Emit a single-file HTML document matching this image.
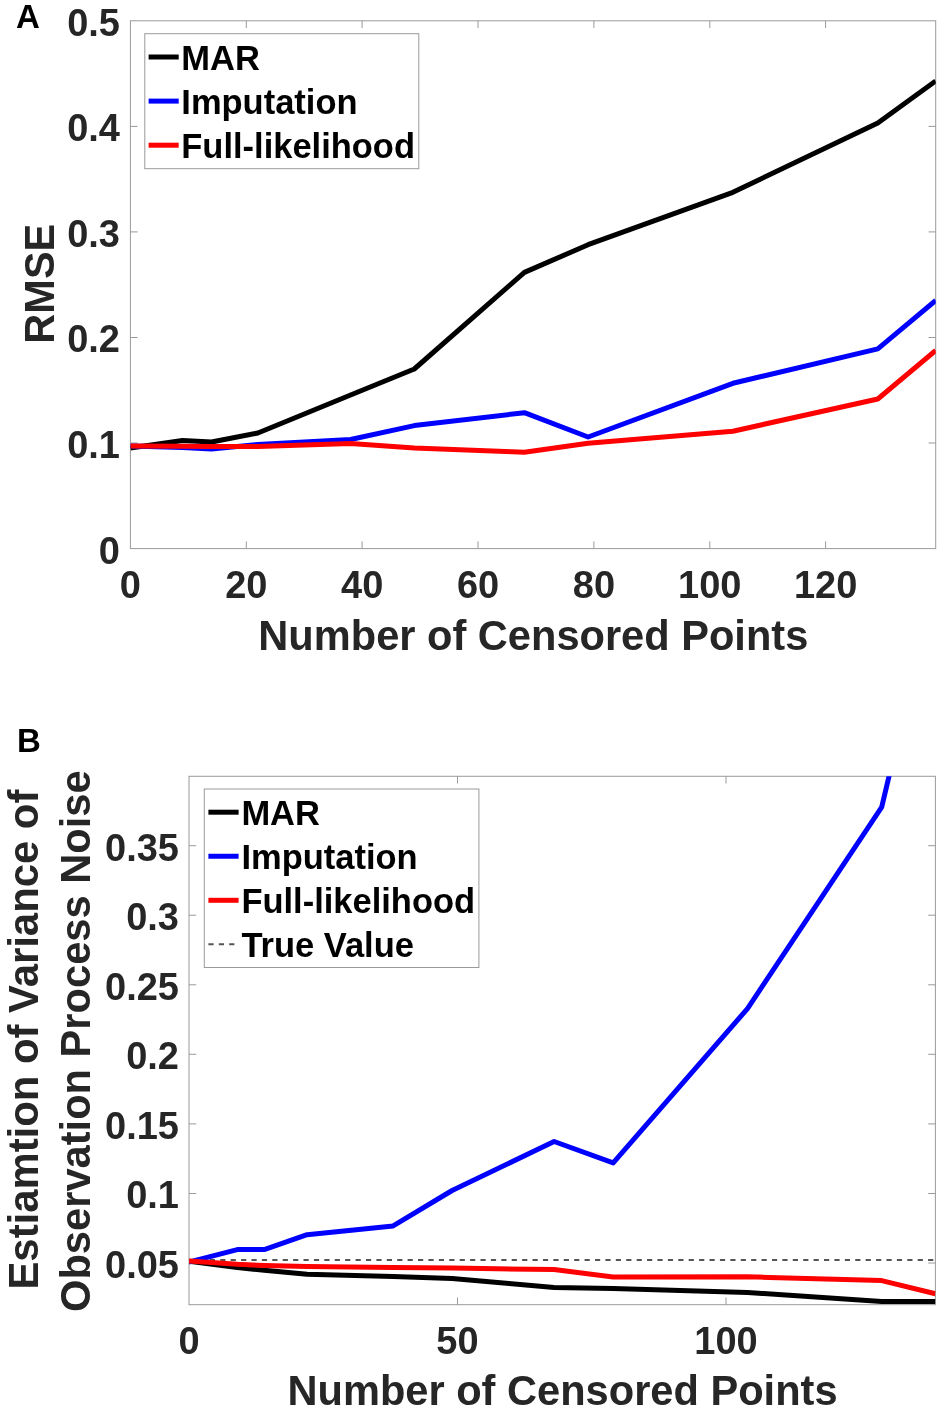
<!DOCTYPE html><html><head><meta charset="utf-8"><style>html,body{margin:0;padding:0;background:#fff;width:945px;height:1416px;overflow:hidden}svg{display:block;filter:blur(0.5px)}</style></head><body>
<svg width="945" height="1416" viewBox="0 0 945 1416" font-family='"Liberation Sans", sans-serif' font-weight="bold">
<rect width="945" height="1416" fill="#fff"/>
<defs><clipPath id="ca"><rect x="130.4" y="20.8" width="805.3000000000001" height="527.8000000000001"/></clipPath><clipPath id="cb"><rect x="189.0" y="776.3" width="746.4" height="528.4000000000001"/></clipPath></defs>
<rect x="130.4" y="20.8" width="805.3000000000001" height="527.8000000000001" fill="none" stroke="#9a9a9a" stroke-width="1"/>
<path d="M246.3,548.6v-7.2M246.3,20.8v7.2M362.1,548.6v-7.2M362.1,20.8v7.2M478.0,548.6v-7.2M478.0,20.8v7.2M593.9,548.6v-7.2M593.9,20.8v7.2M709.8,548.6v-7.2M709.8,20.8v7.2M825.6,548.6v-7.2M825.6,20.8v7.2M130.4,443.0h7.2M935.7,443.0h-7.2M130.4,337.5h7.2M935.7,337.5h-7.2M130.4,231.9h7.2M935.7,231.9h-7.2M130.4,126.4h7.2M935.7,126.4h-7.2" stroke="#9a9a9a" stroke-width="1" fill="none"/>
<text transform="translate(120.00,563.50) scale(1,1.035)" font-size="38" fill="#262626" text-anchor="end">0</text>
<text transform="translate(120.00,457.94) scale(1,1.035)" font-size="38" fill="#262626" text-anchor="end">0.1</text>
<text transform="translate(120.00,352.38) scale(1,1.035)" font-size="38" fill="#262626" text-anchor="end">0.2</text>
<text transform="translate(120.00,246.82) scale(1,1.035)" font-size="38" fill="#262626" text-anchor="end">0.3</text>
<text transform="translate(120.00,141.26) scale(1,1.035)" font-size="38" fill="#262626" text-anchor="end">0.4</text>
<text transform="translate(120.00,35.70) scale(1,1.035)" font-size="38" fill="#262626" text-anchor="end">0.5</text>
<text transform="translate(130.40,598.00) scale(1,1.035)" font-size="38" fill="#262626" text-anchor="middle">0</text>
<text transform="translate(246.27,598.00) scale(1,1.035)" font-size="38" fill="#262626" text-anchor="middle">20</text>
<text transform="translate(362.14,598.00) scale(1,1.035)" font-size="38" fill="#262626" text-anchor="middle">40</text>
<text transform="translate(478.01,598.00) scale(1,1.035)" font-size="38" fill="#262626" text-anchor="middle">60</text>
<text transform="translate(593.88,598.00) scale(1,1.035)" font-size="38" fill="#262626" text-anchor="middle">80</text>
<text transform="translate(709.75,598.00) scale(1,1.035)" font-size="38" fill="#262626" text-anchor="middle">100</text>
<text transform="translate(825.62,598.00) scale(1,1.035)" font-size="38" fill="#262626" text-anchor="middle">120</text>
<text transform="translate(533.30,650.20) scale(1,1.035)" font-size="41.6" fill="#262626" text-anchor="middle">Number of Censored Points</text>
<text transform="translate(54.00,283.70) rotate(-90) scale(1,1.035)" font-size="41.5" fill="#262626" text-anchor="middle">RMSE</text>
<text x="16" y="28" font-size="33" fill="#000">A</text>
<g clip-path="url(#ca)" fill="none" stroke-width="5.0" stroke-linejoin="round" stroke-linecap="butt">
<polyline points="130.4,448.0 182.5,440.5 211.5,442.0 257.9,433.0 350.6,395.0 414.3,369.0 524.4,272.4 588.1,244.7 732.9,192.3 877.8,123.0 935.7,81.0" stroke="#000"/>
<polyline points="130.4,446.0 182.5,447.5 211.5,449.0 257.9,444.5 350.6,439.5 414.3,425.6 524.4,412.7 588.1,437.0 732.9,383.3 877.8,348.9 935.7,300.5" stroke="#00f"/>
<polyline points="130.4,446.0 182.5,446.2 211.5,446.5 257.9,446.5 350.6,443.5 414.3,447.9 524.4,452.3 588.1,443.2 732.9,431.2 877.8,399.0 935.7,350.5" stroke="#f00"/>
</g>
<rect x="144.8" y="33.7" width="274" height="135" fill="#fff" stroke="#9a9a9a" stroke-width="1"/>
<line x1="148.6" y1="57.0" x2="178.7" y2="57.0" stroke="#000" stroke-width="5.0"/>
<text transform="translate(181.30,69.90) scale(1,1.02)" font-size="34.5" fill="#000">MAR</text>
<line x1="148.6" y1="101.1" x2="178.7" y2="101.1" stroke="#00f" stroke-width="5.0"/>
<text transform="translate(181.30,114.00) scale(1,1.02)" font-size="34.5" fill="#000">Imputation</text>
<line x1="148.6" y1="145.2" x2="178.7" y2="145.2" stroke="#f00" stroke-width="5.0"/>
<text transform="translate(181.30,158.10) scale(1,1.02)" font-size="34.5" fill="#000">Full-likelihood</text>
<rect x="189.0" y="776.3" width="746.4" height="528.4000000000001" fill="none" stroke="#9a9a9a" stroke-width="1"/>
<path d="M457.5,1304.7v-7.2M457.5,776.3v7.2M726.0,1304.7v-7.2M726.0,776.3v7.2M189.0,845.7h7.2M935.4,845.7h-7.2M189.0,915.2h7.2M935.4,915.2h-7.2M189.0,984.8h7.2M935.4,984.8h-7.2M189.0,1054.3h7.2M935.4,1054.3h-7.2M189.0,1123.9h7.2M935.4,1123.9h-7.2M189.0,1193.5h7.2M935.4,1193.5h-7.2M189.0,1263.0h7.2M935.4,1263.0h-7.2" stroke="#9a9a9a" stroke-width="1" fill="none"/>
<text transform="translate(179.00,860.60) scale(1,1.035)" font-size="38" fill="#262626" text-anchor="end">0.35</text>
<text transform="translate(179.00,930.15) scale(1,1.035)" font-size="38" fill="#262626" text-anchor="end">0.3</text>
<text transform="translate(179.00,999.70) scale(1,1.035)" font-size="38" fill="#262626" text-anchor="end">0.25</text>
<text transform="translate(179.00,1069.25) scale(1,1.035)" font-size="38" fill="#262626" text-anchor="end">0.2</text>
<text transform="translate(179.00,1138.80) scale(1,1.035)" font-size="38" fill="#262626" text-anchor="end">0.15</text>
<text transform="translate(179.00,1208.35) scale(1,1.035)" font-size="38" fill="#262626" text-anchor="end">0.1</text>
<text transform="translate(179.00,1277.90) scale(1,1.035)" font-size="38" fill="#262626" text-anchor="end">0.05</text>
<text transform="translate(189.00,1353.50) scale(1,1.035)" font-size="38" fill="#262626" text-anchor="middle">0</text>
<text transform="translate(457.49,1353.50) scale(1,1.035)" font-size="38" fill="#262626" text-anchor="middle">50</text>
<text transform="translate(725.98,1353.50) scale(1,1.035)" font-size="38" fill="#262626" text-anchor="middle">100</text>
<text transform="translate(562.50,1405.20) scale(1,1.035)" font-size="41.6" fill="#262626" text-anchor="middle">Number of Censored Points</text>
<text transform="translate(37.90,1039.60) rotate(-90) scale(1,1.035)" font-size="41.85" fill="#262626" text-anchor="middle">Estiamtion of Variance of</text>
<text transform="translate(90.20,1041.20) rotate(-90) scale(1,1.035)" font-size="41.65" fill="#262626" text-anchor="middle">Observation Process Noise</text>
<text x="17" y="752" font-size="33" fill="#000">B</text>
<g clip-path="url(#cb)" fill="none" stroke-linejoin="round" stroke-linecap="butt">
<line x1="189.0" y1="1260.1" x2="935.4" y2="1260.1" stroke="#555" stroke-width="2" stroke-dasharray="5.2 5.21"/>
<polyline points="189.0,1261.2 237.3,1267.5 264.2,1270.3 307.1,1274.3 393.1,1276.5 452.1,1278.5 554.1,1287.4 613.2,1288.5 747.5,1292.5 881.7,1301.5 935.4,1301.5" stroke="#000" stroke-width="5.0"/>
<polyline points="189.0,1262.0 237.3,1249.6 264.2,1249.6 307.1,1234.7 393.1,1225.9 452.1,1190.5 554.1,1141.5 613.2,1162.9 747.5,1008.6 881.7,807.1 935.4,581.0" stroke="#00f" stroke-width="5.0"/>
<polyline points="189.0,1261.0 237.3,1264.3 264.2,1265.5 307.1,1266.5 393.1,1267.5 452.1,1268.1 554.1,1269.6 613.2,1277.0 747.5,1276.8 881.7,1280.6 935.4,1293.7" stroke="#f00" stroke-width="5.0"/>
</g>
<rect x="204.3" y="789.0" width="274.6" height="178.5" fill="#fff" stroke="#9a9a9a" stroke-width="1"/>
<line x1="208.4" y1="812.20" x2="238.6" y2="812.20" stroke="#000" stroke-width="5.0"/>
<text transform="translate(241.40,825.40) scale(1,1.02)" font-size="34.5" fill="#000">MAR</text>
<line x1="208.4" y1="856.25" x2="238.6" y2="856.25" stroke="#00f" stroke-width="5.0"/>
<text transform="translate(241.40,869.15) scale(1,1.02)" font-size="34.5" fill="#000">Imputation</text>
<line x1="208.4" y1="900.30" x2="238.6" y2="900.30" stroke="#f00" stroke-width="5.0"/>
<text transform="translate(241.40,912.90) scale(1,1.02)" font-size="34.5" fill="#000">Full-likelihood</text>
<line x1="208.4" y1="944.35" x2="238.6" y2="944.35" stroke="#555" stroke-width="2" stroke-dasharray="5.2 5.2"/>
<text transform="translate(241.40,956.65) scale(1,1.02)" font-size="34.5" fill="#000">True Value</text>
</svg></body></html>
